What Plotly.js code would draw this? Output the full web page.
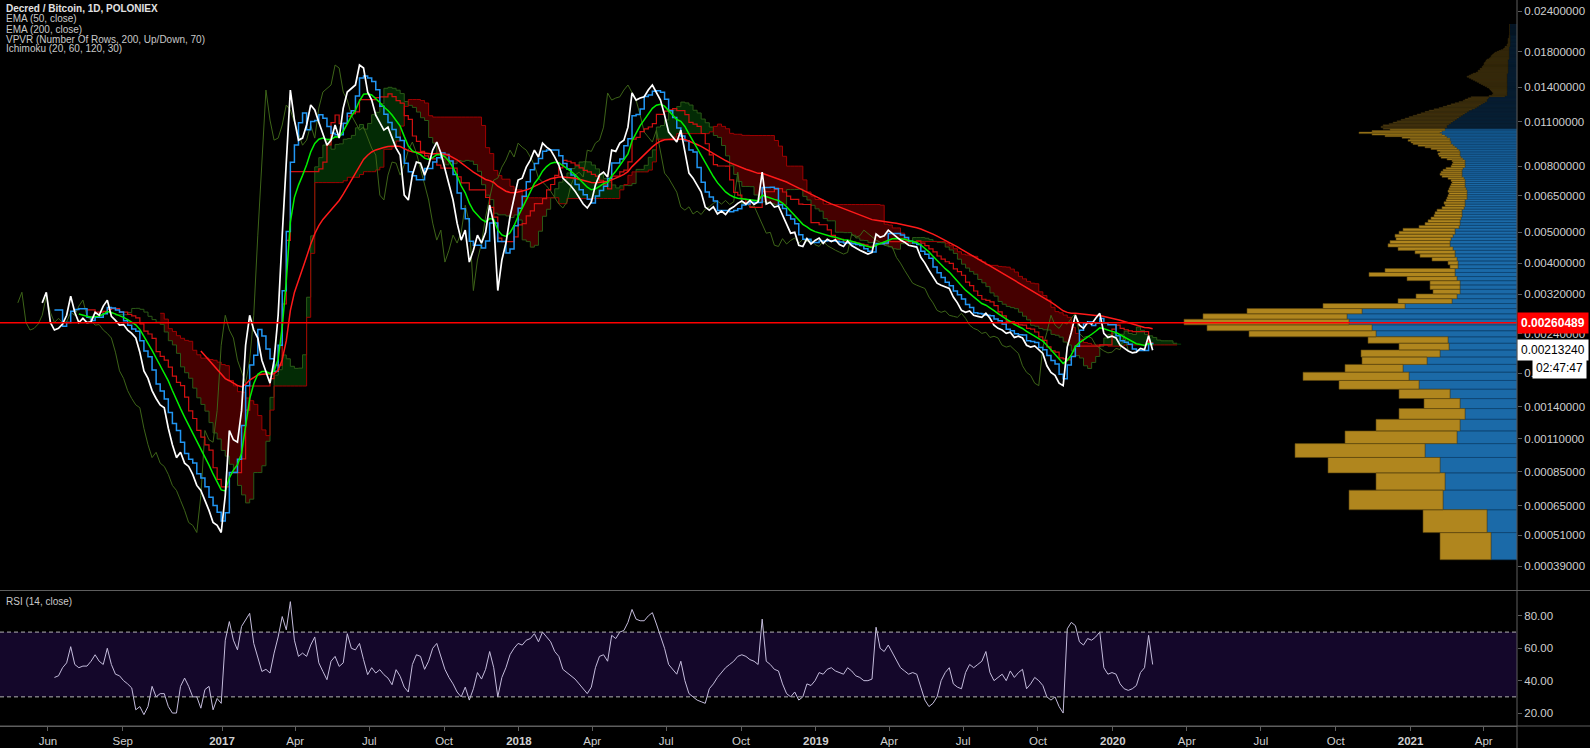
<!DOCTYPE html>
<html><head><meta charset="utf-8">
<script src="https://cdn.plot.ly/plotly-3.0.1.min.js"></script>
<style>html,body{margin:0;padding:0;background:#000;overflow:hidden}#chart{width:1590px;height:748px}</style>
</head><body><div id="chart"></div>
<script>
// ---------- DATA ----------
const startDate = '2016-05-25';   // first daily close sampled
const stepDays = 5;               // one sample every 5 days
const closes = [
0.00301,0.00325,0.00261,0.00247,0.00250,0.00258,0.00275,0.00316,0.00281,0.00261,
0.00269,0.00261,0.00262,0.00281,0.00275,0.00294,0.00307,0.00273,0.00265,0.00256,
0.00257,0.00247,0.00241,0.00233,0.00210,0.00183,0.00173,0.00158,0.00149,0.00142,
0.00139,0.00119,0.00105,0.00095,0.00099,0.00091,0.000887,0.000833,0.000764,0.000734,
0.000678,0.000625,0.000566,0.000553,0.000521,0.000706,0.00117,0.00109,0.00107,0.00136,
0.00221,0.00275,0.00247,0.00233,0.00198,0.00183,0.00167,0.00198,0.00275,0.00490,
0.00808,0.01374,0.01111,0.00964,0.00978,0.01073,0.01236,0.01193,0.01095,0.01014,
0.00930,0.00964,0.01073,0.00978,0.01210,0.01355,0.01394,0.01424,0.01640,0.01605,
0.01355,0.01280,0.01151,0.01095,0.01035,0.01057,0.00985,0.00911,0.00867,0.00652,
0.00630,0.00752,0.00825,0.00819,0.00752,0.00808,0.00898,0.00951,0.00880,0.00791,
0.00711,0.00630,0.00534,0.00473,0.00508,0.00404,0.00440,0.00490,0.00463,0.00500,
0.00607,0.00534,0.00329,0.00410,0.00463,0.00558,0.00639,0.00726,0.00736,0.00796,
0.00837,0.00898,0.00855,0.00944,0.00917,0.00898,0.00855,0.00808,0.00736,0.00716,
0.00696,0.00671,0.00639,0.00612,0.00595,0.00621,0.00701,0.00752,0.00768,0.00742,
0.00898,0.00890,0.00944,0.00964,0.01057,0.01346,0.01280,0.01299,0.01310,0.01374,
0.01424,0.01355,0.01280,0.01151,0.01021,0.00985,0.00951,0.01035,0.00886,0.00763,
0.00736,0.00701,0.00666,0.00599,0.00586,0.00600,0.00570,0.00582,0.00568,0.00590,
0.00600,0.00615,0.00625,0.00612,0.00628,0.00610,0.00622,0.00768,0.00612,0.00620,
0.00599,0.00604,0.00566,0.00527,0.00497,0.00500,0.00456,0.00452,0.00478,0.00460,
0.00472,0.00480,0.00462,0.00476,0.00468,0.00474,0.00458,0.00452,0.00470,0.00455,
0.00446,0.00440,0.00434,0.00428,0.00433,0.00494,0.00483,0.00488,0.00508,0.00497,
0.00483,0.00473,0.00466,0.00456,0.00453,0.00450,0.00418,0.00401,0.00381,0.00362,
0.00347,0.00342,0.00337,0.00334,0.00314,0.00301,0.00285,0.00281,0.00284,0.00275,
0.00273,0.00271,0.00279,0.00269,0.00256,0.00250,0.00247,0.00241,0.00243,0.00234,
0.00236,0.00233,0.00221,0.00218,0.00220,0.00214,0.00208,0.00190,0.00181,0.00177,
0.00167,0.00164,0.00218,0.00243,0.00275,0.00256,0.00250,0.00261,0.00258,0.00269,
0.00279,0.00241,0.00234,0.00236,0.00233,0.00221,0.00216,0.00212,0.00209,0.00210,
0.00216,0.00214,0.00237,0.00213
];
// RSI(14) values, starting at the 4th sample
const rsiStartIndex = 3;
const rsiValues = [
42,43,48,51,61,50,48,49,49,52,
56,52,50,60,50,44,43,40,38,35.5,
22,24,19,24,36.5,30,32,32,24,20,
20,36.5,41.6,36.5,30,30,23,34.5,36.5,22,
29,26,65,76.5,65,59,73.5,77.5,81.6,63,
55,45.7,47,44.7,57,67,79.6,71.4,88.8,65,
55,57,55,62,67,51,45.7,40.6,52,55,
48.8,51,69,60,59,63,53,43.7,48,44.7,
46.8,43.7,41.6,37.5,46.8,42.7,36,33,50,56,
55,47,52,60,63,55,47,42,38,33,
30,36,28,35,45,41,47,58,48,30,
42,48,56,60,63,62,65,66,69,64,
70,67,64,58,55,47,45,43,41,38,
35,32,36,48,55,56,52,68,66,70,
71,76,84,78,77,77,80,82,75,68,
60,50,47,44,52,40,32,30,28,27,
26,35,38,42,45,48,50,52,55,56,
55,53,52,50,78,52,50,47,46,38,
32,30,33,28,30,38,37,40,45,44,
47,48,46,45,44,48,46,43,42,40,
40,41,73,60,58,62,57,52,48,46,
44,45,44,36,28,24,26,30,40,45,
48,38,36,35,45,50,48,50,52,58,
45,40,42,44,40,46,42,45,47,35,
38,42,40,37,30,28,30,24,20,72,
76,74,64,62,66,65,67,70,48,44,
45,44,38,35,34,35,37,45,48,68,
50
];
// Volume profile (VPVR, 200 rows): price of the lowest row and row height
const vpvrLow = 0.000413;
const vpvrRow = 0.0001076;
const valueAreaTopRow = 92;   // rows 0..92 are the 70% value area (bright)
const volUp = [
26,30,74,72,77,92,60,57,52,57,
67,98,108,114,90,77,68,69,141,145,
168,170,155,112,65,60,57,57,57,60,
62,62,59,59,60,62,62,64,67,67,
66,64,62,62,58,57,57,56,55,55,
55,53,52,52,52,50,50,50,50,51,
52,52,52,52,53,55,55,55,55,54,
52,52,52,52,54,56,57,57,57,58,
60,62,64,66,66,67,67,70,72,75,
77,75,72,72,70,70,68,66,64,62,
60,58,56,54,52,50,48,45,42,40,
38,36,34,32,30,30,29,28,12,10,
10,10,10,10,10,10,10,10,10,10,
10,10,10,10,10,10,10,10,10,10,
9,9,9,9,9,9,9,9,9,9,
9,9,9,9,9,8,8,8,8,8,
8,8,8,8,8,8,8,8,8,8,
7,7,7,7,7,7,7,7,7,7,
7,7,7,7,7,7,7,7,7,7,
7,7,7,7,7,7,7,7,7,7
];
const volDown = [
51,64,94,69,112,130,112,84,66,36,
51,80,106,58,65,79,50,80,127,165,
165,144,115,82,54,41,27,30,30,50,
86,70,8,10,25,35,40,55,62,60,
55,58,56,52,40,35,32,30,28,27,
25,22,20,21,19,20,19,18,19,17,
15,14,13,14,16,20,22,21,19,17,
14,13,12,13,16,20,21,22,20,22,
26,30,35,38,40,42,40,45,60,70,
81,70,55,62,66,64,60,58,56,54,
52,50,48,46,44,42,40,38,36,34,
32,30,28,26,24,22,20,18,16,15,
14,14,15,16,17,18,20,22,24,26,
28,30,32,34,36,38,40,38,36,34,
32,30,30,28,28,26,26,25,24,24,
24,23,22,22,21,20,19,18,18,17,
16,15,14,12,10,8,6,5,4,4,
3,3,3,2,2,2,2,2,2,2,
1,1,1,1,1,1,1,1,1,1,
1,1,1,1,1,1,1,1,1,1
];
const priceTicks = [0.024,0.018,0.014,0.011,0.008,0.0065,0.005,0.004,0.0032,0.0024,0.0018,0.0014,0.0011,0.00085,0.00065,0.00051,0.00039];
const xTickDates = ['2016-06-01','2016-09-01','2017-01-01','2017-04-01','2017-07-01','2017-10-01','2018-01-01','2018-04-01','2018-07-01','2018-10-01','2019-01-01','2019-04-01','2019-07-01','2019-10-01','2020-01-01','2020-04-01','2020-07-01','2020-10-01','2021-01-01','2021-04-01'];
const xTickLabels = ['Jun','Sep','<b>2017</b>','Apr','Jul','Oct','<b>2018</b>','Apr','Jul','Oct','<b>2019</b>','Apr','Jul','Oct','<b>2020</b>','Apr','Jul','Oct','<b>2021</b>','Apr'];
const rsiTicks = [20,40,60,80];
const levelPrice = 0.00260489;
const lastPrice = 0.00213240;
const countdown = '02:47:47';
const legendLines = ['Decred / Bitcoin, 1D, POLONIEX','EMA (50, close)','EMA (200, close)','VPVR (Number Of Rows, 200, Up/Down, 70)','Ichimoku (20, 60, 120, 30)'];

// ---------- HELPERS ----------
const DAY = 86400000;
const t0 = Date.parse(startDate + 'T00:00:00Z');
const times = closes.map((_, i) => t0 + i * stepDays * DAY);
const OFF = 0.0001;                    // TradingView log scale: log10(price + 0.0001)
const Y = v => (v == null ? null : v + OFF);
const LG = v => Math.log10(v + OFF);

function ema(vals, days) {
  const n = Math.round(days / stepDays);
  const a = 1 - Math.pow(1 - 2 / (days + 1), stepDays);
  const out = new Array(vals.length).fill(null);
  let s = 0; for (let i = 0; i < n; i++) s += vals[i];
  let e = s / n; out[n - 1] = e;
  for (let i = n; i < vals.length; i++) { e = a * vals[i] + (1 - a) * e; out[i] = e; }
  return out;
}
function midline(vals, days) {
  const n = Math.round(days / stepDays);
  return vals.map((_, i) => {
    if (i < n - 1) return null;
    let hi = -Infinity, lo = Infinity;
    for (let j = i - n + 1; j <= i; j++) { hi = Math.max(hi, vals[j]); lo = Math.min(lo, vals[j]); }
    return (hi + lo) / 2;
  });
}
const ema50 = ema(closes, 50), ema200 = ema(closes, 200);
const conv = midline(closes, 20), base = midline(closes, 60), lead2 = midline(closes, 120);
const lead1 = conv.map((c, i) => (c != null && base[i] != null ? (c + base[i]) / 2 : null));
const shift = 30 * DAY;
const leadTimes = times.map(t => t + shift);
const lagTimes = times.map(t => t - shift);

// cloud polygons (step shaped)
const gX = [], gY = [], rX = [], rY = [];
let run = null;
function flush() {
  if (!run) return;
  const { a, b, green } = run;
  const X = green ? gX : rX, YY = green ? gY : rY;
  for (let i = a; i <= b; i++) {
    const top = green ? lead1[i] : lead2[i];
    X.push(leadTimes[i], leadTimes[i] + stepDays * DAY); YY.push(Y(top), Y(top));
  }
  for (let i = b; i >= a; i--) {
    const bot = green ? lead2[i] : lead1[i];
    X.push(leadTimes[i] + stepDays * DAY, leadTimes[i]); YY.push(Y(bot), Y(bot));
  }
  X.push(null); YY.push(null); run = null;
}
for (let i = 0; i < closes.length; i++) {
  const A = lead1[i], B = lead2[i];
  if (A == null || B == null) { flush(); continue; }
  const g = A >= B;
  if (run && run.green === g) run.b = i; else { flush(); run = { a: i, b: i, green: g }; }
}
flush();

// VPVR polygons
const vp = { ub: [[], []], db: [[], []], ud: [[], []], dd: [[], []] };
function poly(p, k, x0, x1) {
  const lo = vpvrLow + k * vpvrRow, hi = lo + vpvrRow;
  p[0].push(x0, x1, x1, x0, x0, null);
  p[1].push(Y(lo), Y(lo), Y(hi), Y(hi), Y(lo), null);
}
for (let k = 0; k < volUp.length; k++) {
  const bright = k <= valueAreaTopRow;
  poly(bright ? vp.ub : vp.ud, k, 0, volUp[k]);
  poly(bright ? vp.db : vp.dd, k, volUp[k], volUp[k] + volDown[k]);
}

const ln = (x, y, color, width, extra) => Object.assign({ type: 'scatter', mode: 'lines', x, y, line: { color, width }, hoverinfo: 'skip' }, extra || {});
const fillPoly = (x, y, fill, lineColor, lw, xa) => ({ type: 'scatter', mode: 'lines', x, y, fill: 'toself', fillcolor: fill, line: { color: lineColor, width: lw }, xaxis: xa || 'x', yaxis: 'y', hoverinfo: 'skip' });

const traces = [
  fillPoly(rX, rY, '#450000', 'rgba(0,0,0,0)', 0),
  fillPoly(gX, gY, '#032b05', 'rgba(0,0,0,0)', 0),
  ln(leadTimes, lead1.map(Y), '#2b5a17', 1, { line: { color: '#2b5a17', width: 1, shape: 'hv' } }),
  ln(leadTimes, lead2.map(Y), '#a00000', 1, { line: { color: '#a00000', width: 1, shape: 'hv' } }),
  ln(lagTimes, closes.map(Y), '#3d6418', 1),
  ln(times, base.map(Y), '#d01010', 1.2, { line: { color: '#d01010', width: 1.2, shape: 'hv' } }),
  ln(times, conv.map(Y), '#2196f3', 1.5, { line: { color: '#2196f3', width: 1.5, shape: 'hv' } }),
  ln(times, ema200.map(Y), '#ff1a1a', 1.5),
  ln(times, ema50.map(Y), '#00f000', 1.5),
  ln(times, closes.map(Y), '#ffffff', 1.7),
  ln(times.slice(rsiStartIndex), rsiValues, '#c4bcdc', 1, { yaxis: 'y2' }),
  fillPoly(vp.ud[0], vp.ud[1], '#0c2a44', '#06192a', 0.6, 'x2'),
  fillPoly(vp.dd[0], vp.dd[1], '#5a4515', '#2c2209', 0.6, 'x2'),
  fillPoly(vp.ub[0], vp.ub[1], '#1b6aa8', '#0e426d', 0.6, 'x2'),
  fillPoly(vp.db[0], vp.db[1], '#b0861e', '#5a440d', 0.6, 'x2'),
  ln([0, 1517], [Y(levelPrice), Y(levelPrice)], '#ff0000', 1.6, { xaxis: 'x2', yaxis: 'y' })
];

const W = 1517, H = 726;
const px = x => x / W, py = y => (H - y) / H;
const FONT = 'Liberation Sans, Arial, sans-serif';
const annotations = legendLines.map((t, i) => ({
  xref: 'paper', yref: 'paper', x: px(4), y: py(9 + i * 10), xanchor: 'left', yanchor: 'middle', showarrow: false,
  text: i === 0 ? '<b>' + t + '</b>' : t, font: { family: FONT, size: 10, color: i === 0 ? '#e2e2e2' : '#c9c9c9' }
}));
annotations.push({ xref: 'paper', yref: 'paper', x: px(4), y: py(601), xanchor: 'left', yanchor: 'middle', showarrow: false, text: 'RSI (14, close)', font: { family: FONT, size: 10, color: '#c9c9c9' } });
annotations.push({ xref: 'paper', yref: 'y', x: 1, y: LG(levelPrice), xanchor: 'left', yanchor: 'middle', showarrow: false, text: '<b>' + levelPrice.toFixed(8) + '</b>', bgcolor: '#ff0000', borderpad: 3, font: { family: FONT, size: 12, color: '#ffffff' } });
annotations.push({ xref: 'paper', yref: 'y', x: 1, y: LG(lastPrice), xanchor: 'left', yanchor: 'middle', showarrow: false, text: lastPrice.toFixed(8), bgcolor: '#ffffff', borderpad: 3, font: { family: FONT, size: 12, color: '#000000' } });
annotations.push({ xref: 'paper', yref: 'paper', x: px(1559), y: py(368), xanchor: 'center', yanchor: 'middle', showarrow: false, text: countdown, bgcolor: '#ffffff', borderpad: 3, font: { family: FONT, size: 12, color: '#000000' } });

const grid = '#5e5e5e';
const layout = {
  width: 1590, height: 748,
  margin: { l: 0, r: 73, t: 0, b: 22 },
  paper_bgcolor: '#000000', plot_bgcolor: '#000000',
  showlegend: false, hovermode: false, dragmode: false,
  font: { family: FONT, color: '#cfcfcf' },
  xaxis: {
    type: 'date', range: ['2016-04-03 02:00', '2021-05-11 21:00'], autorange: false,
    domain: [0, 1], anchor: 'y2', showgrid: false, zeroline: false,
    tickmode: 'array', tickvals: xTickDates, ticktext: xTickLabels,
    ticks: 'outside', ticklen: 4, tickcolor: grid, showline: true, linecolor: grid, linewidth: 1,
    tickfont: { family: FONT, size: 11.5, color: '#cfcfcf' }, automargin: false
  },
  xaxis2: { overlaying: 'x', anchor: 'y', range: [W, 0], autorange: false, visible: false, showgrid: false, zeroline: false },
  yaxis: {
    type: 'log', domain: [136 / H, 1], range: [-3.38215, -1.58446], autorange: false, anchor: 'x', side: 'right',
    showgrid: false, zeroline: false, tickmode: 'array', tickvals: priceTicks.map(Y), ticktext: priceTicks.map(v => v.toFixed(8)),
    ticks: 'outside', ticklen: 4, tickcolor: grid, showline: false,
    tickfont: { family: FONT, size: 11.5, color: '#cfcfcf' }, automargin: false
  },
  yaxis2: {
    domain: [0, 135 / H], range: [12, 95.38], autorange: false, anchor: 'x', side: 'right',
    showgrid: false, zeroline: false, tickmode: 'array', tickvals: rsiTicks, ticktext: rsiTicks.map(v => v.toFixed(2)),
    ticks: 'outside', ticklen: 4, tickcolor: grid, showline: false,
    tickfont: { family: FONT, size: 11.5, color: '#cfcfcf' }, automargin: false
  },
  shapes: [
    { type: 'rect', layer: 'below', xref: 'paper', yref: 'y2', x0: 0, x1: 1, y0: 30, y1: 70, fillcolor: '#14072a', line: { width: 0 } },
    { type: 'line', xref: 'paper', yref: 'y2', x0: 0, x1: 1, y0: 70, y1: 70, line: { color: '#b4b4b4', width: 1, dash: '4px,3px' } },
    { type: 'line', xref: 'paper', yref: 'y2', x0: 0, x1: 1, y0: 30, y1: 30, line: { color: '#b4b4b4', width: 1, dash: '4px,3px' } },
    { type: 'line', xref: 'paper', yref: 'paper', x0: 0, x1: 1590 / W, y0: py(590.5), y1: py(590.5), line: { color: grid, width: 1 } },
    { type: 'line', xref: 'paper', yref: 'paper', x0: 0, x1: 1590 / W, y0: 0, y1: 0, line: { color: grid, width: 1 } },
    { type: 'line', xref: 'paper', yref: 'paper', x0: 1, x1: 1, y0: -22 / H, y1: 1, line: { color: grid, width: 1 } }
  ],
  annotations
};
Plotly.newPlot('chart', traces, layout, { staticPlot: true, displayModeBar: false });
</script>
</body></html>
